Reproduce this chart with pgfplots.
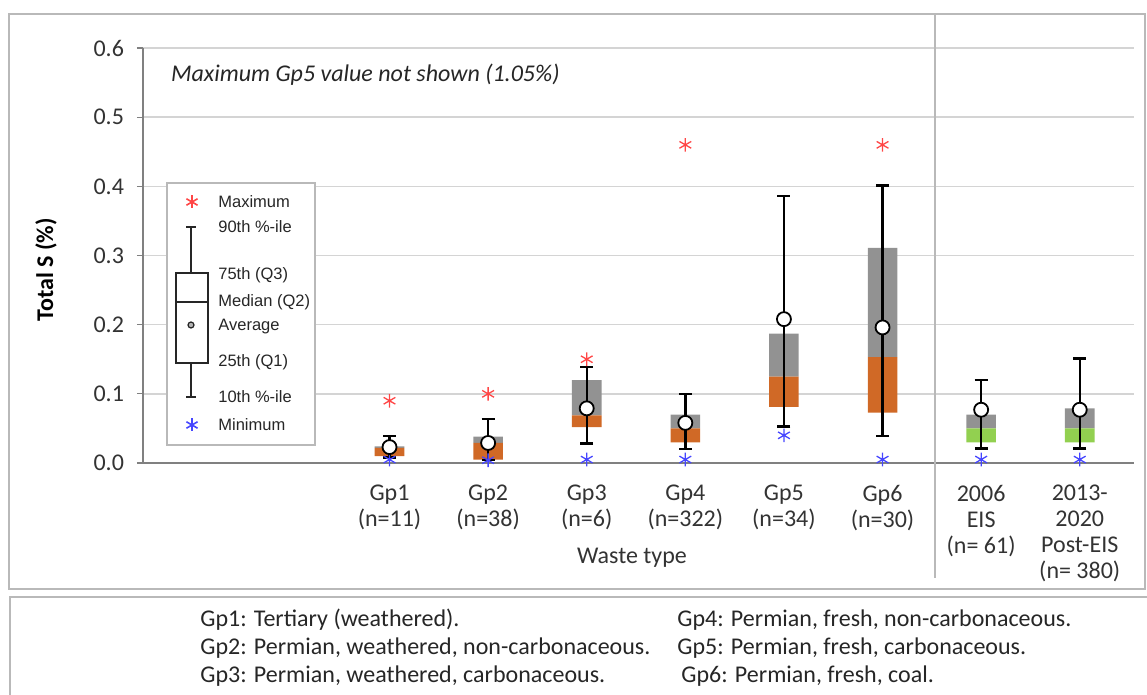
\documentclass[border=0pt]{standalone}
\usepackage{pgfplots}
\pgfplotsset{compat=1.18}
\usepackage{pgfplotstable}
\usepackage{fontspec}
\setmainfont{Carlito}
\newfontfamily\arialfont{Liberation Sans}

\definecolor{boxorange}{RGB}{208,105,38}
\definecolor{boxgray}{RGB}{146,146,146}
\definecolor{boxgreen}{RGB}{146,208,80}
\definecolor{maxred}{RGB}{255,70,70}
\definecolor{minblue}{RGB}{70,70,255}
\definecolor{gridgray}{RGB}{212,212,212}
\definecolor{framegray}{RGB}{185,185,185}

% total S (%) statistics per waste group; x = slot on the axis
\pgfplotstableread{
x  mn    p10   q1    med   q3    p90   mx    avg
2  0.005 0.008 0.010 0.022 0.024 0.039 0.090 0.023
3  0.004 0.004 0.005 0.029 0.038 0.064 0.100 0.029
4  0.005 0.028 0.052 0.069 0.120 0.139 0.150 0.079
5  0.005 0.020 0.030 0.050 0.070 0.100 0.460 0.058
6  0.040 0.053 0.081 0.125 0.187 0.386 nan   0.208
7  0.005 0.039 0.073 0.153 0.311 0.401 0.460 0.196
8  0.005 0.021 0.030 0.050 0.070 0.120 nan   0.077
9  0.005 0.021 0.030 0.050 0.079 0.151 nan   0.077
}\stats

\pgfplotsset{
  boxaxis/.style={
    at={(71.5pt,-231.5pt)}, anchor=south west,
    scale only axis, width=495.5pt, height=207.5pt,
    xmin=-0.5, xmax=9.55, ymin=0, ymax=0.6,
  },
}

\begin{document}
\begin{tikzpicture}
\useasboundingbox (0,0) rectangle (573.5pt,-347.5pt);

% boxes, grid, ticks
\begin{axis}[boxaxis,
    ybar stacked, bar width=0.3,
    axis x line*=bottom, axis y line*=left,
    axis line style={draw=gray, -},
    x axis line style={line width=1pt},
    y axis line style={line width=0.6pt},
    ytick={0,0.1,0.2,0.3,0.4,0.5,0.6},
    ymajorgrids, grid style={gridgray, line width=0.8pt},
    tick align=outside, major tick length=3pt,
    ytick style={draw=gray, line width=0.6pt},
    xtick={2,3,4,5,6,7,8,9},
    xtick style={draw=none},
    xticklabels={{Gp1\\(n=11)},{Gp2\\(n=38)},{Gp3\\(n=6)},{Gp4\\(n=322)},
      {Gp5\\(n=34)},{Gp6\\(n=30)},{2006\\EIS\\(n= 61)},{2013-\\2020\\Post-EIS\\(n= 380)}},
    xticklabel style={font=\fontsize{12}{13}\selectfont, align=center, yshift=-4.5pt, text=black!80},
    yticklabel style={/pgf/number format/.cd, fixed, fixed zerofill, precision=1,
      assume math mode=true, /tikz/.cd, font=\fontsize{12}{14}\selectfont, text=black!80, xshift=-3pt},
  ]
  \addplot[draw=none, fill=none] table[x=x, y=q1] {\stats};
  \addplot[draw=none, fill=boxorange] table[x=x,
    y expr={\thisrow{x}<7.5 ? \thisrow{med}-\thisrow{q1} : 0}] {\stats};
  \addplot[draw=none, fill=boxgreen] table[x=x,
    y expr={\thisrow{x}<7.5 ? 0 : \thisrow{med}-\thisrow{q1}}] {\stats};
  \addplot[draw=none, fill=boxgray] table[x=x, y expr=\thisrow{q3}-\thisrow{med}] {\stats};
\end{axis}

% whiskers and markers
\begin{axis}[boxaxis, hide axis, clip=false]
  \addplot[only marks, mark=asterisk, mark size=3.4pt,
    mark options={maxred, line width=0.65pt}] table[x=x, y=mx] {\stats};
  \addplot[only marks, mark=asterisk, mark size=3.4pt,
    mark options={minblue, line width=0.65pt}] table[x=x, y=mn] {\stats};
  \addplot[only marks, mark=none,
    error bars/.cd, y dir=both, y explicit,
    error bar style={black, line width=1.2pt},
    error mark options={rotate=90, black, line width=1.2pt, mark size=3.25pt}]
    table[x=x, y=avg, y error plus expr=\thisrow{p90}-\thisrow{avg},
      y error minus expr=\thisrow{avg}-\thisrow{p10}] {\stats};
  \addplot[only marks, mark=*, mark size=3.5pt,
    mark options={fill=white, draw=black, line width=0.9pt}] table[x=x, y=avg] {\stats};
\end{axis}

\begin{scope}[x=0.5pt, y=-0.5pt]
  % frames
  \draw[framegray, line width=0.7pt] (9,14) rectangle (1145,589);
  \draw[framegray, line width=0.7pt] (935,14) -- (935,578);
  \draw[framegray, line width=0.7pt] (10,720) -- (10,597) -- (1160,597);

  % texts
  \node[anchor=west, font=\itshape\fontsize{12}{15}\selectfont, text=black!85] at (164,75)
    {Maximum Gp5 value not shown (1.05\%)};
  \node[rotate=90, font=\bfseries\fontsize{12}{14}\selectfont] at (46,270) {Total S (\%)};
  \node[font=\fontsize{12}{14}\selectfont, text=black!80] at (632,558) {Waste type};

  % key
  \draw[framegray, fill=white, line width=0.7pt] (167,183) rectangle (315,445);
  \begin{scope}[maxred, line width=0.8pt]
    \draw (192,195.5) -- (192,208.5);
    \draw (186.4,198.75) -- (197.6,205.25);
    \draw (186.4,205.25) -- (197.6,198.75);
  \end{scope}
  \begin{scope}[minblue, line width=0.8pt]
    \draw (192,418.5) -- (192,431.5);
    \draw (186.4,421.75) -- (197.6,428.25);
    \draw (186.4,428.25) -- (197.6,421.75);
  \end{scope}
  \begin{scope}[black!85, line width=0.6pt]
    \draw (191,227) -- (191,273);
    \draw (186,227) -- (196,227);
    \draw (176,273) rectangle (208,363);
    \draw (176,302) -- (208,302);
    \draw (191,363) -- (191,397);
    \draw (186,397) -- (196,397);
    \draw[fill=gray!60] (191,325) circle (3);
  \end{scope}
  \begin{scope}[every node/.style={anchor=west, inner sep=0pt,
      font=\arialfont\fontsize{8.25}{10}\selectfont, text=black!85}]
    \node at (218,202) {Maximum};
    \node at (218,227) {90th \%-ile};
    \node at (218,275) {75th (Q3)};
    \node at (218,302) {Median (Q2)};
    \node at (218,327) {Average};
    \node at (218,362) {25th (Q1)};
    \node at (218,397) {10th \%-ile};
    \node at (218,425) {Minimum};
  \end{scope}

  % group descriptions
  \begin{scope}[every node/.style={anchor=west, inner sep=0pt,
      font=\fontsize{12}{14}\selectfont, text=black!85}]
    \node at (200,620) {Gp1: Tertiary (weathered).};
    \node at (200,648) {Gp2: Permian, weathered, non-carbonaceous.};
    \node at (200,676) {Gp3: Permian, weathered, carbonaceous.};
    \node at (677,620) {Gp4: Permian, fresh, non-carbonaceous.};
    \node at (677,648) {Gp5: Permian, fresh, carbonaceous.};
    \node at (681,676) {Gp6: Permian, fresh, coal.};
  \end{scope}
\end{scope}
\end{tikzpicture}
\end{document}
